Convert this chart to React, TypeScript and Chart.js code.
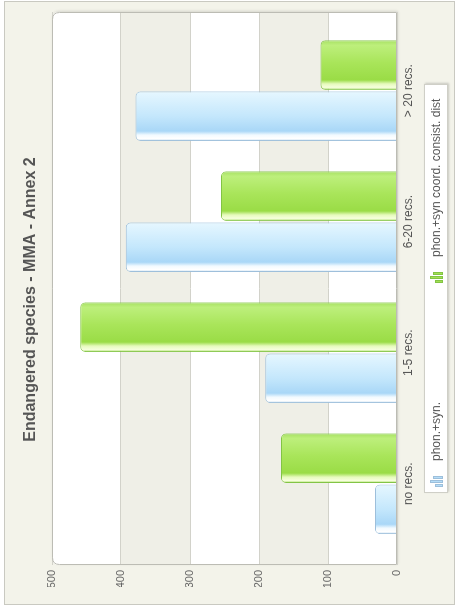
import React, { useEffect, useRef } from 'react';
import { Chart, registerables } from 'chart.js';

Chart.register(...registerables);

// ---- data ----
const chartTitle = 'Endangered species - MMA - Annex 2';
const categories = ['no recs.', '1-5 recs.', '6-20 recs.', '> 20 recs.'];
const seriesNames = ['phon.+syn.', 'phon.+syn coord. consist. dist'];
const phonSyn = [32, 191, 393, 379];
const phonSynCoord = [168, 459, 255, 111];
const valueTicks = [0, 100, 200, 300, 400, 500];

// ---- layout constants (unrotated canvas) ----
const CW = 613;
const CH = 457;
const CAT_PCT = 0.78;
const BAR_PCT = 0.97;
const FONT = '"Liberation Sans", Arial, Helvetica, sans-serif';

const blueStops: [number, string][] = [
  [0, '#c9e0f2'],
  [0.05, '#ffffff'],
  [0.12, '#f2faff'],
  [0.2, '#a9d7f7'],
  [0.5, '#c4e7fc'],
  [1, '#e6f7ff'],
];
const greenStops: [number, string][] = [
  [0, '#a8dc68'],
  [0.05, '#f6ffdc'],
  [0.12, '#e6fabc'],
  [0.2, '#9adc46'],
  [0.55, '#a9e55a'],
  [0.9, '#bdef7c'],
  [1, '#a6e062'],
];
const flatColors = ['#b5ddf8', '#a3e052'];
const borderColors = ['#9dbfdb', '#82c444'];

function gradFor(dsIndex: number) {
  return (ctx: any) => {
    const chart = ctx.chart;
    const xs = chart.scales && chart.scales.x;
    if (!xs || ctx.type !== 'data' || !chart.chartArea) return flatColors[dsIndex];
    const i = ctx.dataIndex;
    const unit = Math.abs(xs.getPixelForValue(1) - xs.getPixelForValue(0));
    const slot = (unit * CAT_PCT) / 2;
    const w = slot * BAR_PCT;
    const center = xs.getPixelForValue(i) + (dsIndex === 0 ? -slot / 2 : slot / 2);
    const g = chart.ctx.createLinearGradient(center - w / 2, 0, center + w / 2, 0);
    const stops = dsIndex === 0 ? blueStops : greenStops;
    stops.forEach(([o, c]) => g.addColorStop(o, c));
    return g;
  };
}

function roundTopRect(ctx: CanvasRenderingContext2D, x: number, y: number, w: number, h: number, r: number) {
  ctx.beginPath();
  ctx.moveTo(x, y + h);
  ctx.lineTo(x, y + r);
  ctx.quadraticCurveTo(x, y, x + r, y);
  ctx.lineTo(x + w - r, y);
  ctx.quadraticCurveTo(x + w, y, x + w, y + r);
  ctx.lineTo(x + w, y + h);
  ctx.closePath();
}

const backgroundPlugin = {
  id: 'bgBands',
  beforeDraw(chart: any) {
    const { ctx, chartArea: a, scales } = chart;
    ctx.save();
    ctx.fillStyle = '#ffffff';
    ctx.fillRect(0, 0, CW, CH);
    ctx.fillStyle = '#f3f3ea';
    ctx.fillRect(8, 4, 604, 451);
    ctx.strokeStyle = '#c9c9c1';
    ctx.lineWidth = 1;
    ctx.strokeRect(8.5, 4.5, 603, 450);
    // plot area
    ctx.shadowColor = 'rgba(0,0,0,0.12)';
    ctx.shadowBlur = 3;
    ctx.shadowOffsetX = 1;
    ctx.shadowOffsetY = 1;
    roundTopRect(ctx, a.left, a.top, a.width, a.height, 7);
    ctx.fillStyle = '#ffffff';
    ctx.fill();
    ctx.shadowColor = 'transparent';
    ctx.save();
    ctx.clip();
    const y = scales.y;
    for (let k = 1; k < valueTicks.length - 1; k += 2) {
      const hi = valueTicks[valueTicks.length - 1 - k];
      const lo = valueTicks[valueTicks.length - 2 - k];
      const y1 = y.getPixelForValue(hi);
      const y2 = y.getPixelForValue(lo);
      ctx.fillStyle = '#efefe7';
      ctx.fillRect(a.left, y1, a.width, y2 - y1);
    }
    ctx.restore();
    ctx.restore();
  },
  afterDatasetsDraw(chart: any) {
    const { ctx, chartArea: a } = chart;
    ctx.save();
    roundTopRect(ctx, a.left + 0.5, a.top + 0.5, a.width - 1, a.height - 1, 7);
    ctx.strokeStyle = '#bcbcb4';
    ctx.lineWidth = 1;
    ctx.stroke();
    ctx.restore();
  },
};

function drawIcon(ctx: CanvasRenderingContext2D, x: number, y: number, color: string, edge: string) {
  const heights = [8, 13, 10];
  heights.forEach((h, i) => {
    const bx = x + 1 + i * 4;
    ctx.fillStyle = color;
    ctx.fillRect(bx, y + 14 - h, 3, h);
    ctx.strokeStyle = edge;
    ctx.lineWidth = 1;
    ctx.strokeRect(bx + 0.5, y + 14 - h + 0.5, 2, h - 1);
  });
}

const legendPlugin = {
  id: 'boxLegend',
  afterDraw(chart: any) {
    const { ctx, chartArea: a } = chart;
    const cx = (a.left + a.right) / 2;
    const colW = 204;
    const boxW = 409;
    const left = Math.round(cx - boxW / 2);
    const top = Math.round(a.bottom + 27);
    const h = 24;
    ctx.save();
    ctx.shadowColor = 'rgba(0,0,0,0.18)';
    ctx.shadowBlur = 2;
    ctx.shadowOffsetX = 1;
    ctx.shadowOffsetY = 1;
    ctx.fillStyle = '#ffffff';
    ctx.fillRect(left, top, boxW, h);
    ctx.shadowColor = 'transparent';
    ctx.strokeStyle = '#cfcfc7';
    ctx.strokeRect(left + 0.5, top + 0.5, boxW - 1, h - 1);
    chart.data.datasets.forEach((ds: any, i: number) => {
      const x = left + 5 + i * colW;
      drawIcon(ctx, x, top + 5, flatColors[i], borderColors[i]);
      ctx.fillStyle = '#555555';
      ctx.font = '12px ' + FONT;
      ctx.textBaseline = 'middle';
      ctx.textAlign = 'left';
      ctx.fillText(ds.label, x + 27, top + h / 2 + 0.5);
    });
    ctx.restore();
  },
};

export default function App() {
  const ref = useRef<HTMLCanvasElement | null>(null);

  useEffect(() => {
    document.body.style.margin = '0';
    const canvas = ref.current;
    if (!canvas) return;
    const chart = new Chart(canvas, {
      type: 'bar',
      data: {
        datasets: [
          {
            label: seriesNames[0],
            data: phonSyn.map((v, i) => ({ x: i, y: v })),
            backgroundColor: gradFor(0),
            borderColor: borderColors[0],
            borderWidth: 1,
            borderRadius: 5,
            borderSkipped: 'start',
          },
          {
            label: seriesNames[1],
            data: phonSynCoord.map((v, i) => ({ x: i, y: v })),
            backgroundColor: gradFor(1),
            borderColor: borderColors[1],
            borderWidth: 1,
            borderRadius: 5,
            borderSkipped: 'start',
          },
        ],
      },
      options: {
        animation: false,
        responsive: false,
        devicePixelRatio: 1,
        datasets: { bar: { categoryPercentage: CAT_PCT, barPercentage: BAR_PCT } } as any,
        layout: { padding: { left: 26, right: 12, top: 0, bottom: 36 } },
        plugins: {
          legend: { display: false },
          tooltip: { enabled: false },
          title: {
            display: true,
            text: chartTitle,
            color: '#555555',
            font: { family: FONT, size: 16, weight: 'bold', lineHeight: '19px' },
            padding: { top: 21, bottom: 12 },
          },
        },
        scales: {
          x: {
            type: 'linear',
            min: -0.62,
            max: 3.6,
            offset: false,
            grid: { display: false, drawTicks: false },
            border: { display: false },
            ticks: {
              stepSize: 1,
              includeBounds: false,
              autoSkip: false,
              maxRotation: 0,
              minRotation: 0,
              padding: 4,
              color: '#555555',
              font: { family: FONT, size: 12 },
              callback: (v: any) => (Number.isInteger(v) && categories[v] !== undefined ? categories[v] : ''),
            },
            afterFit: (s: any) => {
              s.height = 24;
            },
          },
          y: {
            type: 'linear',
            min: valueTicks[0],
            max: valueTicks[valueTicks.length - 1],
            grid: { color: '#d2d2ca', drawTicks: false, lineWidth: 1 },
            border: { display: false },
            ticks: {
              padding: 5,
              color: '#666666',
              font: { family: FONT, size: 11 },
            },
            afterBuildTicks: (s: any) => {
              s.ticks = valueTicks.map((v) => ({ value: v }));
            },
            afterFit: (s: any) => {
              s.width = 22;
            },
          },
        } as any,
      },
      plugins: [backgroundPlugin, legendPlugin],
    } as any);
    return () => chart.destroy();
  }, []);

  return (
    <div
      style={{
        position: 'fixed',
        left: 0,
        top: 0,
        width: CH,
        height: CW,
        overflow: 'hidden',
        background: '#ffffff',
      }}
    >
      <div
        style={{
          position: 'absolute',
          left: 0,
          top: 0,
          width: CW,
          height: CH,
          transformOrigin: '0 0',
          transform: `translateY(${CW}px) rotate(-90deg)`,
        }}
      >
        <canvas ref={ref} width={CW} height={CH} style={{ display: 'block', width: CW, height: CH }} />
      </div>
    </div>
  );
}
